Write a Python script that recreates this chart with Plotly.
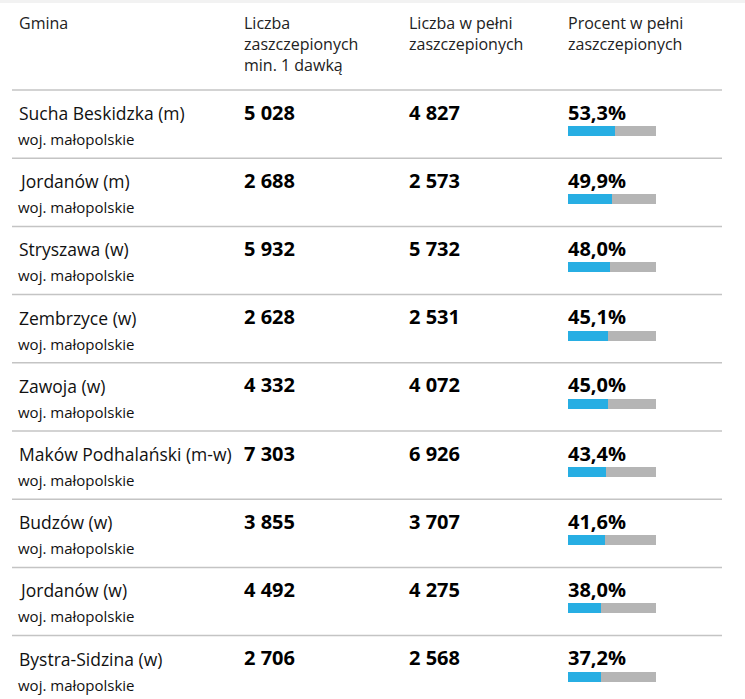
import plotly.graph_objects as go

# dane z tabeli
gminy = ['Sucha Beskidzka (m)', 'Jordanów (m)', 'Stryszawa (w)', 'Zembrzyce (w)',
         'Zawoja (w)', 'Maków Podhalański (m-w)', 'Budzów (w)', 'Jordanów (w)',
         'Bystra-Sidzina (w)']
wojewodztwa = ['woj. małopolskie'] * 9
dawka1 = [5028, 2688, 5932, 2628, 4332, 7303, 3855, 4492, 2706]
pelne = [4827, 2573, 5732, 2531, 4072, 6926, 3707, 4275, 2568]
procent = [53.3, 49.9, 48.0, 45.1, 45.0, 43.4, 41.6, 38.0, 37.2]

naglowki = ['Gmina', 'Liczba<br>zaszczepionych<br>min. 1 dawką',
            'Liczba w pełni<br>zaszczepionych', 'Procent w pełni<br>zaszczepionych']

W, H = 745, 699
FONT = 'Open Sans'
col_x = [17, 242, 407, 566]
top = 90
row_h = 68.2


def row_y(i, off):
    return top + row_h * i + off


def fmt(n):
    return f'{n:,}'.replace(',', ' ')


fig = go.Figure()

# paski procentowe (tło + wartość)
ys = [row_y(i, 41) for i in range(len(gminy))]
fig.add_trace(go.Bar(x=[100] * len(ys), y=ys, orientation='h', width=10,
                     marker=dict(color='#b5b5b5', line_width=0),
                     xaxis='x2', yaxis='y', hoverinfo='skip', showlegend=False))
fig.add_trace(go.Bar(x=procent, y=ys, orientation='h', width=10,
                     marker=dict(color='#27aee3', line_width=0),
                     xaxis='x2', yaxis='y', hoverinfo='skip', showlegend=False))

ann = []
for j, h in enumerate(naglowki):
    ann.append(dict(x=col_x[j], y=10, text=h, xanchor='left', yanchor='top',
                    align='left', showarrow=False,
                    font=dict(family=FONT, size=16, color='#222222')))

shapes = [dict(type='rect', xref='paper', yref='y', x0=0, x1=1, y0=0, y1=3,
               fillcolor='#f2f2f2', line_width=0, layer='above')]

for i in range(len(gminy)):
    shapes.append(dict(type='line', xref='x', yref='y', x0=12, x1=722,
                       y0=row_y(i, 0), y1=row_y(i, 0),
                       line=dict(color='#c4c4c4', width=1.5)))
    ann.append(dict(x=col_x[0], y=row_y(i, 23), text=gminy[i], xanchor='left',
                    yanchor='middle', showarrow=False,
                    font=dict(family=FONT, size=17.5, color='#111111')))
    ann.append(dict(x=col_x[0] - 1, y=row_y(i, 49), text=wojewodztwa[i],
                    xanchor='left', yanchor='middle', showarrow=False,
                    font=dict(family=FONT, size=15, color='#111111')))
    ann.append(dict(x=col_x[1], y=row_y(i, 22), text='<b>' + fmt(dawka1[i]) + '</b>',
                    xanchor='left', yanchor='middle', showarrow=False,
                    font=dict(family=FONT, size=20, color='#000000')))
    ann.append(dict(x=col_x[2], y=row_y(i, 22), text='<b>' + fmt(pelne[i]) + '</b>',
                    xanchor='left', yanchor='middle', showarrow=False,
                    font=dict(family=FONT, size=20, color='#000000')))
    ann.append(dict(x=col_x[3], y=row_y(i, 22),
                    text='<b>' + f'{procent[i]:.1f}'.replace('.', ',') + '%</b>',
                    xanchor='left', yanchor='middle', showarrow=False,
                    font=dict(family=FONT, size=20, color='#000000')))

fig.update_layout(
    width=W, height=H,
    margin=dict(l=0, r=0, t=0, b=0),
    paper_bgcolor='white', plot_bgcolor='white',
    barmode='overlay', bargap=0,
    xaxis=dict(range=[0, W], visible=False, fixedrange=True, domain=[0, 1]),
    xaxis2=dict(domain=[568 / W, 656 / W], range=[0, 100], visible=False,
                anchor='y', fixedrange=True),
    yaxis=dict(range=[H, 0], visible=False, fixedrange=True),
    annotations=ann, shapes=shapes,
)

fig.write_html('out.html', config={'displayModeBar': False},
               post_script="document.body.style.margin='0';")
